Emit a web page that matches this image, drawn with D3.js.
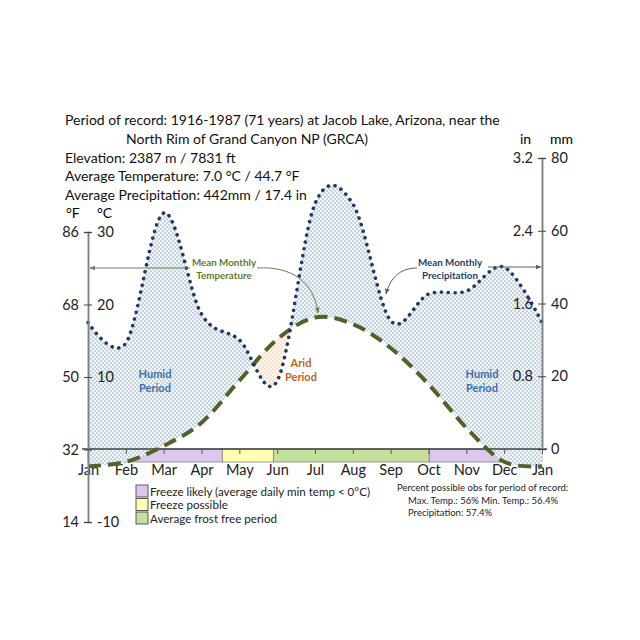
<!DOCTYPE html>
<html>
<head>
<meta charset="utf-8">
<script src="https://cdn.jsdelivr.net/npm/d3@7"></script>
<style>
  body { margin: 0; background: #fff; }
  text { font-family: Lato, "Open Sans", sans-serif; }
</style>
</head>
<body>
<div id="chart"></div>
<script>
// monthly climate normals, Jan .. Dec and Jan again to close the year
var months = ["Jan", "Feb", "Mar", "Apr", "May", "Jun", "Jul", "Aug", "Sep", "Oct", "Nov", "Dec", "Jan"];
var tempC = [-2.3, -1.7, 0.5, 3.7, 9.5, 15.2, 18.2, 17.3, 14.0, 9.0, 3.0, -1.7, -2.3];
var precipMm = [34.8, 29.1, 64.9, 37.1, 30.0, 18.7, 67.4, 67.4, 35.3, 42.6, 43.4, 50.0, 34.8];

// axis ticks
var tempTicksC = [-10, 0, 10, 20, 30];
var tempTicksF = ["14", "32", "50", "68", "86"];
var precipTicksMm = [0, 20, 40, 60, 80];
var precipTicksIn = ["", "0.8", "1.6", "2.4", "3.2"];

// frost periods along the bottom, in months from 1 Jan
var periodStart = [0, 3.55, 4.9, 9.02];
var periodEnd = [3.55, 4.9, 9.02, 12];
var periodType = ["likely", "possible", "free", "likely"];
var legendTypes = ["likely", "possible", "free"];
var legendLabels = ["Freeze likely (average daily min temp < 0°C)", "Freeze possible", "Average frost free period"];

var headerLines = [
  "Period of record: 1916-1987 (71 years) at Jacob Lake, Arizona, near the",
  "North Rim of Grand Canyon NP (GRCA)",
  "Elevation: 2387 m / 7831 ft",
  "Average Temperature: 7.0 °C / 44.7 °F",
  "Average Precipitation: 442mm / 17.4 in"
];
var noteLines = [
  "Percent possible obs for period of record:",
  "Max. Temp.: 56% Min. Temp.: 56.4%",
  "Precipitation: 57.4%"
];

var periodColor = { likely: "#dcc8ec", possible: "#ffffb4", free: "#c5df9f" };

var width = 640, height = 640;

var svg = d3.select("#chart")
    .append("svg")
    .attr("width", width)
    .attr("height", height);

var defs = svg.append("defs");

// dotted fills
var humid = defs.append("pattern")
    .attr("id", "humid")
    .attr("patternUnits", "userSpaceOnUse")
    .attr("width", 4).attr("height", 4);
humid.append("rect").attr("width", 4).attr("height", 4).attr("fill", "#f2f6f9");
humid.append("circle").attr("cx", 1).attr("cy", 1).attr("r", 0.75).attr("fill", "#86a2ba");
humid.append("circle").attr("cx", 3).attr("cy", 3).attr("r", 0.75).attr("fill", "#86a2ba");

var arid = defs.append("pattern")
    .attr("id", "arid")
    .attr("patternUnits", "userSpaceOnUse")
    .attr("width", 4).attr("height", 4);
arid.append("rect").attr("width", 4).attr("height", 4).attr("fill", "#fdf6ef");
arid.append("circle").attr("cx", 1).attr("cy", 1).attr("r", 0.7).attr("fill", "#f2bf94");
arid.append("circle").attr("cx", 3).attr("cy", 3).attr("r", 0.7).attr("fill", "#f2bf94");

function arrowMarker(id, color) {
  defs.append("marker")
      .attr("id", id)
      .attr("viewBox", "0 0 10 10")
      .attr("refX", 9).attr("refY", 5)
      .attr("markerWidth", 6).attr("markerHeight", 6)
      .attr("orient", "auto")
      .append("path")
      .attr("d", "M0,1 L10,5 L0,9 z")
      .attr("fill", color);
}
arrowMarker("arrowT", "#6f7f4f");
arrowMarker("arrowP", "#4f6075");

// scales
var x = d3.scaleLinear().domain([0, 12]).range([88, 542]);
var yT = d3.scaleLinear().domain([-10, 30]).range([522, 232]);
var yP = d3.scaleLinear().domain([0, 80]).range([449, 158]);

var data = months.map(function(m, i) { return { i: i, t: tempC[i], p: precipMm[i] }; });
var curve = d3.curveCatmullRom.alpha(0);

// frost period bars
svg.append("g")
  .selectAll("rect")
  .data(periodType)
  .enter()
  .append("rect")
    .attr("x", function(d, i) { return x(periodStart[i]); })
    .attr("width", function(d, i) { return x(periodEnd[i]) - x(periodStart[i]); })
    .attr("y", 449)
    .attr("height", 13)
    .attr("fill", function(d) { return periodColor[d]; })
    .attr("stroke", "#7f7f7f")
    .attr("stroke-width", 0.8);

// humid / arid areas between the two curves
defs.append("clipPath").attr("id", "aboveTemp")
  .append("path")
  .attr("d", d3.area().x(function(d) { return x(d.i); }).y0(0).y1(function(d) { return yT(d.t); }).curve(curve)(data));
defs.append("clipPath").attr("id", "abovePrecip")
  .append("path")
  .attr("d", d3.area().x(function(d) { return x(d.i); }).y0(0).y1(function(d) { return yP(d.p); }).curve(curve)(data));

svg.append("path")
    .attr("d", d3.area().x(function(d) { return x(d.i); }).y0(600).y1(function(d) { return yP(d.p); }).curve(curve)(data))
    .attr("fill", "url(#humid)")
    .attr("clip-path", "url(#aboveTemp)");

svg.append("path")
    .attr("d", d3.area().x(function(d) { return x(d.i); }).y0(600).y1(function(d) { return yT(d.t); }).curve(curve)(data))
    .attr("fill", "url(#arid)")
    .attr("clip-path", "url(#abovePrecip)");

// baseline (0 °C / 0 mm) and month axis
svg.append("line")
    .attr("x1", 82).attr("x2", 547)
    .attr("y1", yP(0)).attr("y2", yP(0))
    .attr("stroke", "#404040")
    .attr("stroke-width", 1.3);

var xAxis = svg.append("g")
    .attr("transform", "translate(0," + yP(0) + ")")
    .call(d3.axisBottom(x)
      .tickValues(d3.range(13))
      .tickFormat(function(d) { return months[d]; })
      .tickSize(5)
      .tickPadding(11));
xAxis.select(".domain").remove();
xAxis.selectAll(".tick line").attr("stroke", "#595959");
xAxis.selectAll("text")
    .attr("font-family", "Lato, sans-serif")
    .attr("font-size", 14.5)
    .attr("fill", "#222");

// curves
svg.append("path")
    .datum(data)
    .attr("fill", "none")
    .attr("stroke", "#4f6228")
    .attr("stroke-width", 4)
    .attr("stroke-dasharray", "13 7")
    .attr("d", d3.line().x(function(d) { return x(d.i); }).y(function(d) { return yT(d.t); }).curve(curve));

svg.append("path")
    .datum(data)
    .attr("fill", "none")
    .attr("stroke", "#1f3864")
    .attr("stroke-width", 3.6)
    .attr("stroke-linecap", "round")
    .attr("stroke-dasharray", "0.1 6.8")
    .attr("d", d3.line().x(function(d) { return x(d.i); }).y(function(d) { return yP(d.p); }).curve(curve));

// temperature axis: °F on the left side, °C on the right side of the line
var axisFont = 14.5;
var leftF = svg.append("g")
    .attr("transform", "translate(" + x(0) + ",0)")
    .call(d3.axisLeft(yT)
      .tickValues(tempTicksC)
      .tickFormat(function(d, i) { return tempTicksF[i]; })
      .tickSizeOuter(0)
      .tickSize(4)
      .tickPadding(5));
var leftC = svg.append("g")
    .attr("transform", "translate(" + x(0) + ",0)")
    .call(d3.axisRight(yT)
      .tickValues(tempTicksC)
      .tickFormat(function(d) { return d === 0 ? "" : d; })
      .tickSizeOuter(0)
      .tickSize(4)
      .tickPadding(5));

// precipitation axis: inches on the left, mm on the right of the line
var rightIn = svg.append("g")
    .attr("transform", "translate(" + x(12) + ",0)")
    .call(d3.axisLeft(yP)
      .tickValues(precipTicksMm)
      .tickFormat(function(d, i) { return precipTicksIn[i]; })
      .tickSizeOuter(0)
      .tickSize(4)
      .tickPadding(5));
var rightMm = svg.append("g")
    .attr("transform", "translate(" + x(12) + ",0)")
    .call(d3.axisRight(yP)
      .tickValues(precipTicksMm)
      .tickSizeOuter(0)
      .tickSize(4)
      .tickPadding(5));

[leftF, leftC, rightIn, rightMm].forEach(function(g) {
  g.select(".domain").attr("stroke", "#808080").attr("stroke-width", 1.5);
  g.selectAll(".tick line").attr("stroke", "#404040");
  g.selectAll("text")
    .attr("font-family", "Lato, sans-serif")
    .attr("font-size", axisFont)
    .attr("fill", "#222");
});

// unit labels
svg.append("text").attr("x", 66).attr("y", 218).attr("font-size", 14).text("°F");
svg.append("text").attr("x", 97).attr("y", 218).attr("font-size", 14).text("°C");
svg.append("text").attr("x", 520).attr("y", 144).attr("font-size", 14).text("in");
svg.append("text").attr("x", 550).attr("y", 144).attr("font-size", 14).text("mm");

// header block
var headerX = [65, 126, 65, 65, 65];
var headerY = [125, 144, 163, 181, 200];
svg.append("g")
  .selectAll("text")
  .data(headerLines)
  .enter()
  .append("text")
    .attr("x", function(d, i) { return headerX[i]; })
    .attr("y", function(d, i) { return headerY[i]; })
    .attr("font-size", 14)
    .attr("fill", "#111")
    .text(function(d) { return d; });

// annotations
function twoLines(lines, cx, y0, color, size) {
  var t = svg.append("text")
      .attr("text-anchor", "middle")
      .attr("font-size", size)
      .attr("font-weight", "bold")
      .attr("fill", color);
  lines.forEach(function(s, i) {
    t.append("tspan").attr("x", cx).attr("y", y0 + i * (size + 3)).text(s);
  });
}
twoLines(["Mean Monthly", "Temperature"], 224, 266, "#5f7a2e", 9.8);
twoLines(["Mean Monthly", "Precipitation"], 450, 266, "#243f66", 9.8);
twoLines(["Humid", "Period"], 155, 378, "#3b6ea8", 11);
twoLines(["Humid", "Period"], 482, 378, "#3b6ea8", 11);
twoLines(["Arid", "Period"], 301, 367, "#c0621d", 11);

svg.append("path")
    .attr("d", "M190,268 L90,268")
    .attr("fill", "none").attr("stroke", "#6f7f4f").attr("stroke-width", 1)
    .attr("marker-end", "url(#arrowT)");
svg.append("path")
    .attr("d", "M257,268 C292,266 314,282 318,313")
    .attr("fill", "none").attr("stroke", "#6f7f4f").attr("stroke-width", 1)
    .attr("marker-end", "url(#arrowT)");
svg.append("path")
    .attr("d", "M417,268 C400,268 390,278 386,294")
    .attr("fill", "none").attr("stroke", "#4f6075").attr("stroke-width", 1)
    .attr("marker-end", "url(#arrowP)");
svg.append("path")
    .attr("d", "M488,267 L541,267")
    .attr("fill", "none").attr("stroke", "#4f6075").attr("stroke-width", 1)
    .attr("marker-end", "url(#arrowP)");

// legend
var legend = svg.append("g")
  .selectAll("g")
  .data(legendTypes)
  .enter()
  .append("g")
    .attr("transform", function(d, i) { return "translate(136," + (485 + i * 13.5) + ")"; });
legend.append("rect")
    .attr("width", 12).attr("height", 12)
    .attr("fill", function(d) { return periodColor[d]; })
    .attr("stroke", "#595959")
    .attr("stroke-width", 1);
legend.append("text")
    .attr("x", 14).attr("y", 10.5)
    .attr("font-size", 11.6)
    .attr("fill", "#222")
    .text(function(d, i) { return legendLabels[i]; });

// record note
var noteX = [397, 408, 408];
svg.append("g")
  .selectAll("text")
  .data(noteLines)
  .enter()
  .append("text")
    .attr("x", function(d, i) { return noteX[i]; })
    .attr("y", function(d, i) { return 491 + i * 12.5; })
    .attr("font-size", 9.5)
    .attr("fill", "#222")
    .text(function(d) { return d; });
</script>
</body>
</html>
